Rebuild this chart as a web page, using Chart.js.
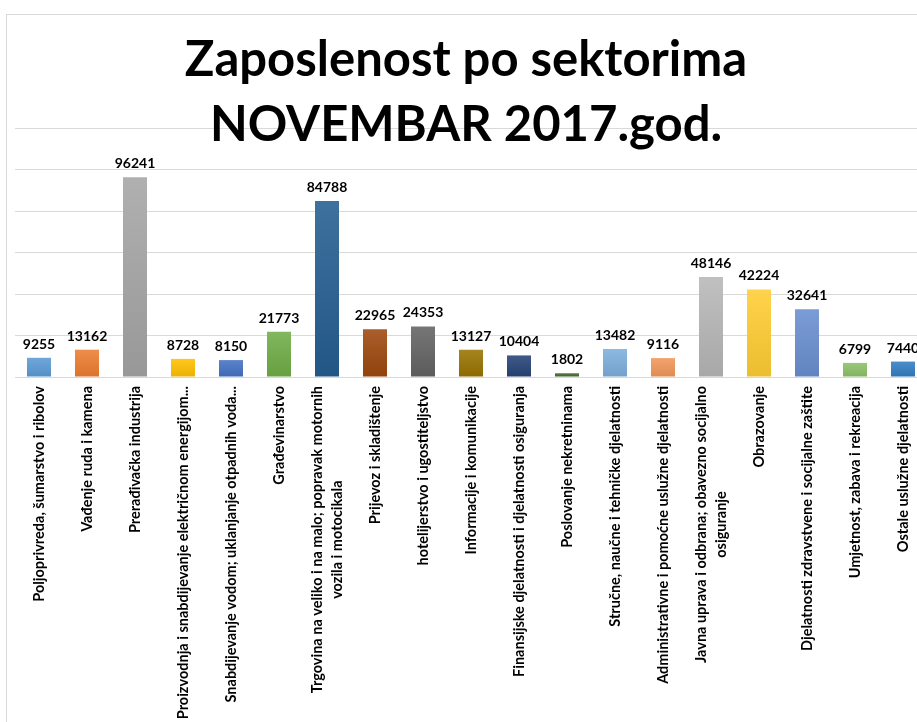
<!DOCTYPE html>
<html>
<head>
<meta charset="utf-8">
<title>Zaposlenost po sektorima</title>
<script src="https://cdn.jsdelivr.net/npm/chart.js@4/dist/chart.umd.min.js"></script>
<style>
    html, body { margin: 0; padding: 0; background: #fff; overflow: hidden; }
    body { width: 917px; height: 722px; position: relative; }
    .frame {
        position: absolute; left: 6px; top: 14px; width: 1000px; height: 800px;
        border-left: 1px solid #d9d9d9; border-top: 1px solid #d9d9d9;
    }
    .wrap { position: absolute; left: 0; top: 0; width: 940px; height: 722px; }
</style>
</head>
<body>
<div class="frame"></div>
<div class="wrap"><canvas id="sectorChart"></canvas></div>
<script>
// Data
const sectors = [
    'Poljoprivreda, šumarstvo i ribolov',
    'Vađenje ruda i kamena',
    'Prerađivačka industrija',
    'Proizvodnja i snabdijevanje električnom energijom...',
    'Snabdijevanje vodom; uklanjanje otpadnih voda...',
    'Građevinarstvo',
    ['Trgovina na veliko i na malo; popravak motornih', 'vozila i motocikala'],
    'Prijevoz i skladištenje',
    'hotelijerstvo i ugostiteljstvo',
    'Informacije i komunikacije',
    'Finansijske djelatnosti i djelatnosti osiguranja',
    'Poslovanje nekretninama',
    'Stručne, naučne i tehničke djelatnosti',
    'Administrativne i pomoćne uslužne djelatnosti',
    ['Javna uprava i odbrana; obavezno socijalno', 'osiguranje'],
    'Obrazovanje',
    'Djelatnosti zdravstvene i socijalne zaštite',
    'Umjetnost, zabava i rekreacija',
    'Ostale uslužne djelatnosti'
];
const employed = [9255, 13162, 96241, 8728, 8150, 21773, 84788, 22965, 24353, 13127,
    10404, 1802, 13482, 9116, 48146, 42224, 32641, 6799, 7440];
const titleLines = ['Zaposlenost po sektorima', 'NOVEMBAR 2017.god.'];
const yMin = 0;
const yMax = 120000;
const yStep = 20000;

// Styles
const barColors = ['#5b9bd5', '#ed7d31', '#a5a5a5', '#ffc000', '#4472c4', '#70ad47',
    '#255e91', '#9e480e', '#636363', '#997300', '#264478', '#43682b',
    '#7cafdd', '#f1975a', '#b7b7b7', '#ffcd33', '#698ed0', '#8cc168', '#327dc2'];
const FONT = 'Lato, "Open Sans", sans-serif';

function shade(hex, amt) {
    const n = parseInt(hex.slice(1), 16);
    let r = (n >> 16) & 255, g = (n >> 8) & 255, b = n & 255;
    const f = c => Math.round(amt >= 0 ? c + (255 - c) * amt : c * (1 + amt));
    return `rgb(${f(r)}, ${f(g)}, ${f(b)})`;
}

function barFill(ctx) {
    const chart = ctx.chart;
    const base = barColors[ctx.dataIndex];
    if (!chart.chartArea || !chart.scales.y) return base;
    const yScale = chart.scales.y;
    const top = yScale.getPixelForValue(employed[ctx.dataIndex]);
    const bottom = yScale.getPixelForValue(0);
    if (!(bottom > top)) return base;
    const g = chart.ctx.createLinearGradient(0, top, 0, bottom);
    g.addColorStop(0, shade(base, 0.12));
    g.addColorStop(1, shade(base, -0.08));
    return g;
}

const valueLabels = {
    id: 'valueLabels',
    afterDatasetsDraw(chart) {
        const ctx = chart.ctx;
        const meta = chart.getDatasetMeta(0);
        ctx.save();
        ctx.font = `bold 14px ${FONT}`;
        ctx.fillStyle = '#000';
        ctx.textAlign = 'center';
        ctx.textBaseline = 'alphabetic';
        meta.data.forEach((bar, i) => {
            ctx.fillText(String(employed[i]), bar.x, bar.y - 9);
        });
        ctx.restore();
    }
};

const categoryLabels = {
    id: 'categoryLabels',
    afterDraw(chart) {
        const ctx = chart.ctx;
        const xScale = chart.scales.x;
        const topY = chart.chartArea.bottom + 9;
        const lineH = 20;
        ctx.save();
        ctx.font = `bold 14.5px ${FONT}`;
        ctx.fillStyle = '#000';
        ctx.textBaseline = 'middle';
        sectors.forEach((label, i) => {
            const lines = Array.isArray(label) ? label : [label];
            const x = xScale.getPixelForValue(i);
            const w = Math.max(...lines.map(l => ctx.measureText(l).width));
            ctx.save();
            ctx.translate(x, topY);
            ctx.rotate(-Math.PI / 2);
            ctx.textAlign = 'center';
            lines.forEach((line, k) => {
                ctx.fillText(line, -w / 2, (k - (lines.length - 1) / 2) * lineH);
            });
            ctx.restore();
        });
        ctx.restore();
    }
};

const chartTitle = {
    id: 'chartTitle',
    afterDraw(chart) {
        const ctx = chart.ctx;
        ctx.save();
        ctx.font = `bold 49px ${FONT}`;
        ctx.fillStyle = '#000';
        ctx.textAlign = 'center';
        ctx.textBaseline = 'alphabetic';
        ctx.fillText(titleLines[0], 466, 76);
        ctx.fillText(titleLines[1], 466, 141);
        ctx.restore();
    }
};

new Chart(document.getElementById('sectorChart').getContext('2d'), {
    type: 'bar',
    data: {
        labels: sectors,
        datasets: [{
            label: 'Zaposleni',
            data: employed,
            backgroundColor: barFill,
            borderWidth: 0,
            barPercentage: 0.5,
            categoryPercentage: 1
        }]
    },
    options: {
        responsive: true,
        maintainAspectRatio: false,
        animation: false,
        layout: { padding: { left: 15, right: 13, top: 128, bottom: 345 } },
        plugins: {
            legend: { display: false },
            tooltip: { enabled: false },
            title: { display: false }
        },
        scales: {
            x: { display: false },
            y: {
                min: yMin,
                max: yMax,
                ticks: { stepSize: yStep, display: false },
                grid: { color: '#d9d9d9', lineWidth: 1, drawTicks: false },
                border: { display: false }
            }
        }
    },
    plugins: [valueLabels, categoryLabels, chartTitle]
});
</script>
</body>
</html>
